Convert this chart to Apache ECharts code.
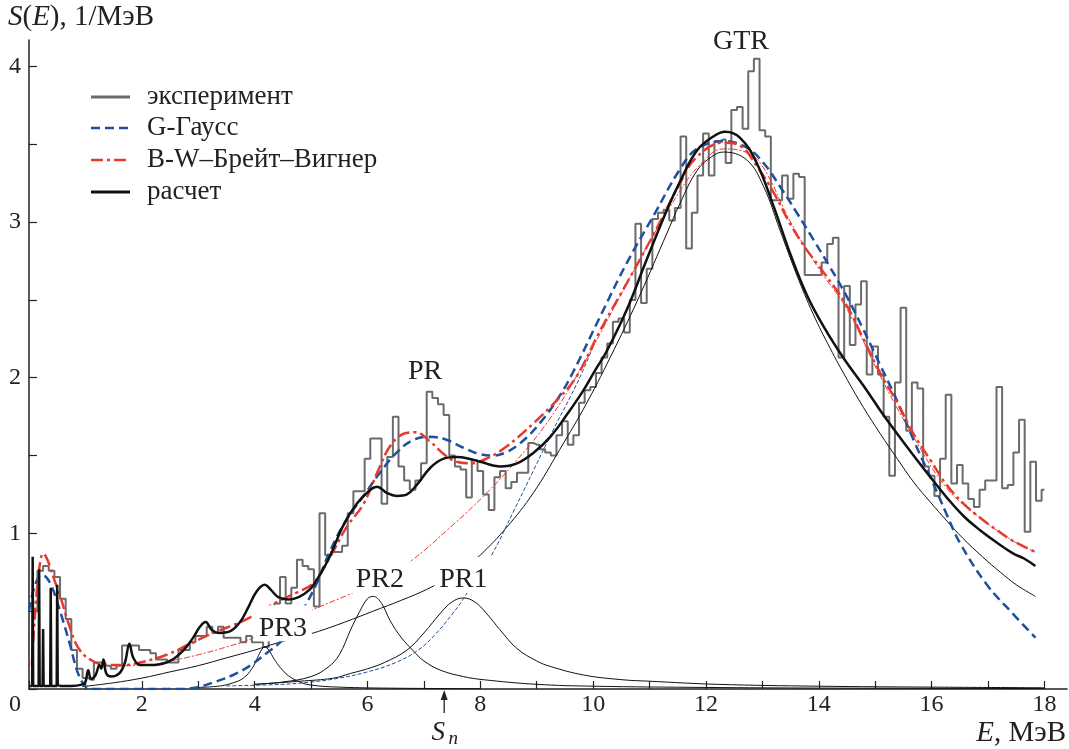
<!DOCTYPE html>
<html><head><meta charset="utf-8">
<script src="https://cdn.jsdelivr.net/npm/echarts@6/dist/echarts.min.js"></script>
<style>html,body{margin:0;padding:0;background:#fff}#c{width:1069px;height:749px}</style>
</head><body><div id="c"></div>
<script>
// ---------- data ----------
const histStart = 0.1, histStep = 0.1;          // bin centres, MeV
const histValues = [
 0.50,0.76,0.79,0.76,0.72,0.58,0.45,0.25,0.13,0.07,   // 0.1-1.0
 0.06,0.17,0.17,0.15,0.13,0.15,0.28,0.28,0.28,0.25,   // 1.1-2.0
 0.25,0.23,0.19,0.19,0.17,0.17,0.25,0.25,0.30,0.34,   // 2.1-3.0
 0.34,0.40,0.36,0.40,0.33,0.33,0.33,0.30,0.34,0.30,   // 3.1-4.0
 0.30,0.27,0.50,0.55,0.72,0.55,0.65,0.83,0.79,0.77,   // 4.1-5.0
 0.53,1.13,0.86,0.88,0.88,0.92,1.13,1.27,1.27,1.48,   // 5.1-6.0
 1.61,1.61,1.19,1.49,1.75,1.43,1.34,1.28,1.34,1.45,   // 6.1-7.0
 1.91,1.87,1.83,1.76,1.50,1.43,1.41,1.23,1.47,1.40,   // 7.1-8.0
 1.25,1.15,1.36,1.40,1.29,1.33,1.39,1.39,1.58,1.57,   // 8.1-9.0
 1.54,1.52,1.50,1.63,1.72,1.57,1.63,1.84,1.92,1.94,   // 9.1-10.0
 2.03,2.13,2.22,2.36,2.38,2.29,2.50,2.99,2.48,2.70,   // 10.1-11.0
 3.02,3.06,3.08,3.01,3.09,3.55,2.83,3.06,3.30,3.57,   // 11.1-12.0
 3.30,3.52,3.53,3.38,3.72,3.74,3.60,3.97,4.05,3.59,   // 12.1-13.0
 3.55,3.14,3.14,3.30,3.15,3.31,3.29,2.66,2.66,2.66,   // 13.1-14.0
 2.74,2.86,2.90,2.13,2.59,2.21,2.47,2.62,2.02,2.20,   // 14.1-15.0
 2.02,1.75,1.37,1.97,2.45,1.66,1.97,1.93,1.43,1.37,   // 15.1-16.0
 1.24,1.48,1.89,1.32,1.44,1.32,1.22,1.17,1.28,1.34,   // 16.1-17.0
 1.34,1.94,1.29,1.31,1.52,1.73,1.01,1.46,1.21,1.28    // 17.1-18.0
];

const calcSpikes = [[0.02,0.02],[0.056,0.02],[0.065,0.85],[0.074,0.02],[0.171,0.02],[0.18,0.77],[0.189,0.02],
 [0.241,0.02],[0.25,0.385],[0.259,0.02],[0.376,0.02],[0.385,0.65],[0.394,0.02],[0.491,0.02],[0.50,0.67],[0.509,0.025],[0.55,0.02]];
const calcCurve = [[0.55,0.02],[0.75,0.02],[0.95,0.03],[1.0,0.045],[1.05,0.12],[1.1,0.065],[1.18,0.09],[1.25,0.155],[1.28,0.13],
 [1.32,0.19],[1.37,0.10],[1.46,0.08],[1.6,0.10],[1.7,0.17],[1.78,0.29],[1.85,0.20],[1.97,0.155],[2.23,0.155],[2.5,0.18],
 [2.74,0.25],[2.91,0.33],[3.03,0.40],[3.13,0.43],[3.24,0.38],[3.36,0.36],[3.56,0.37],[3.74,0.43],[3.88,0.52],[4.04,0.63],
 [4.18,0.67],[4.28,0.64],[4.42,0.59],[4.6,0.575],[4.78,0.59],[4.98,0.64],[5.1,0.70],[5.33,0.85],[5.57,1.05],[5.81,1.19],
 [6.05,1.28],[6.17,1.30],[6.34,1.26],[6.52,1.24],[6.70,1.25],[6.87,1.31],[7.11,1.42],[7.35,1.48],[7.58,1.49],[7.8,1.48],
 [8.0,1.46],[8.35,1.43],[8.65,1.45],[8.95,1.52],[9.24,1.62],[9.53,1.76],[9.83,1.92],[10.04,2.05],[10.24,2.17],[10.6,2.44],
 [10.95,2.76],[11.31,3.08],[11.54,3.26],[11.84,3.46],[12.13,3.55],[12.34,3.58],[12.61,3.54],[12.90,3.38],[13.20,3.10],
 [13.49,2.80],[13.79,2.53],[14.1,2.32],[14.45,2.12],[14.79,1.95],[15.09,1.79],[15.39,1.64],[15.68,1.50],
 [15.98,1.36],[16.27,1.23],[16.57,1.11],[16.86,1.02],[17.16,0.94],[17.45,0.87],[17.63,0.84],[17.84,0.79]];

const gaussTotal = [[0.0,0.50],[0.1,0.66],[0.22,0.73],[0.3,0.72],[0.4,0.66],[0.5,0.56],[0.61,0.43],[0.73,0.28],[0.85,0.12],
 [0.95,0.04],[1.02,0.01],[1.1,0.0],[2.6,0.0],[2.97,0.01],[3.33,0.05],[3.62,0.09],[3.92,0.15],[4.21,0.23],[4.45,0.30],
 [4.65,0.39],[4.86,0.51],[5.1,0.68],[5.34,0.89],[5.63,1.09],[5.93,1.24],[6.22,1.39],[6.52,1.52],[6.81,1.60],[7.11,1.62],
 [7.41,1.60],[7.70,1.55],[7.98,1.51],[8.23,1.50],[8.45,1.52],[8.71,1.58],[9.06,1.71],[9.4,1.88],[9.65,2.04],[10.12,2.39],
 [10.6,2.74],[11.07,3.04],[11.54,3.34],[11.84,3.47],[12.31,3.52],[12.72,3.48],[13.02,3.38],[13.31,3.23],[13.61,3.06],
 [13.90,2.89],[14.2,2.71],[14.5,2.52],[14.79,2.31],[15.09,2.08],[15.39,1.85],[15.68,1.60],[15.98,1.36],[16.27,1.12],
 [16.5,0.94],[16.98,0.67],[17.45,0.48],[17.84,0.33]];

const bwTotal = [[0.05,0.15],[0.12,0.55],[0.2,0.82],[0.25,0.87],[0.3,0.85],[0.37,0.79],[0.45,0.70],[0.55,0.60],[0.65,0.48],
 [0.73,0.39],[0.82,0.30],[0.90,0.25],[1.0,0.21],[1.08,0.19],[1.26,0.16],[1.44,0.155],[1.73,0.155],[1.97,0.17],[2.44,0.22],
 [2.91,0.30],[3.33,0.37],[3.62,0.41],[3.92,0.46],[4.2,0.52],[4.45,0.57],[4.75,0.62],[5.04,0.68],[5.34,0.85],[5.63,1.04],
 [5.93,1.19],[6.22,1.43],[6.40,1.56],[6.64,1.64],[6.85,1.65],[7.11,1.59],[7.35,1.51],[7.58,1.46],[7.82,1.45],[8.11,1.48],
 [8.47,1.56],[8.95,1.71],[9.42,1.88],[9.71,2.01],[10.12,2.30],[10.6,2.61],[11.07,2.92],[11.54,3.25],[11.84,3.42],
 [12.31,3.51],[12.61,3.49],[12.9,3.36],[13.2,3.19],[13.49,2.99],[13.79,2.82],[14.08,2.68],[14.5,2.46],
 [14.79,2.25],[15.09,2.03],[15.39,1.84],[15.68,1.64],[15.98,1.47],[16.27,1.31],[16.57,1.19],[16.86,1.10],[17.16,1.02],
 [17.45,0.95],[17.84,0.88]];

const gtrCalc = [[0.94,0.015],[1.5,0.04],[2.0,0.07],[2.5,0.11],[3.0,0.15],[3.5,0.20],[4.0,0.25],[4.39,0.295],[4.8,0.335],
 [5.13,0.37],[5.6,0.43],[6.1,0.50],[6.6,0.57],[7.05,0.64],[7.5,0.73],[7.88,0.83],[8.0,0.86],[8.47,1.04],[8.94,1.26],
 [9.41,1.54],[9.89,1.84],[10.37,2.18],[10.84,2.54],[11.31,2.93],[11.54,3.12],[11.84,3.33],[12.1,3.42],[12.31,3.45],
 [12.72,3.40],[13.02,3.23],[13.31,2.95],[13.61,2.66],[13.90,2.41],[14.2,2.19],[14.5,1.99],[14.79,1.81],[15.09,1.64],
 [15.39,1.48],[15.68,1.33],[15.98,1.20],[16.27,1.08],[16.55,0.97],[16.9,0.85],[17.22,0.75],[17.5,0.67],[17.84,0.595]];
const pr1Calc = [[4.0,0.03],[4.8,0.05],[5.4,0.07],[5.7,0.10],[6.0,0.13],[6.3,0.17],[6.7,0.25],[7.0,0.36],[7.3,0.49],
 [7.5,0.56],[7.7,0.585],[7.9,0.56],[8.1,0.49],[8.35,0.38],[8.65,0.26],[9.0,0.18],[9.24,0.145],[9.83,0.09],[10.5,0.06],
 [11.0,0.05],[12.2,0.03],[14.0,0.018],[16.0,0.012],[18.0,0.008]];
const pr2Calc = [[4.0,0.03],[4.5,0.045],[5.0,0.08],[5.3,0.14],[5.5,0.22],[5.7,0.38],[5.85,0.49],[6.0,0.58],[6.1,0.595],
 [6.25,0.55],[6.4,0.44],[6.6,0.33],[6.8,0.25],[7.0,0.18],[7.3,0.12],[7.7,0.08],[8.05,0.06],[9.0,0.03],[10.0,0.018],
 [12.0,0.01],[14.0,0.006],[18.0,0.003]];
const pr3Calc = [[3.0,0.01],[3.4,0.02],[3.62,0.04],[3.8,0.07],[3.95,0.13],[4.05,0.20],[4.12,0.25],[4.18,0.27],[4.25,0.25],
 [4.35,0.19],[4.45,0.14],[4.6,0.085],[4.8,0.045],[5.0,0.025],[5.5,0.012],[6.5,0.005],[8.0,0.002]];
const gaussGtr = [[3.5,0.02],[4.5,0.03],[5.0,0.045],[5.5,0.07],[6.0,0.11],[6.5,0.17],[6.9,0.25],[7.2,0.35],[7.5,0.48],
 [7.7,0.58],[8.0,0.76],[8.2,0.86],[8.6,1.15],[8.95,1.41],[9.3,1.67],[9.6,1.88],[9.8,2.03],[10.0,2.2]];
const bwGtr = [[1.7,0.15],[2.0,0.15],[2.5,0.18],[3.0,0.22],[3.5,0.27],[3.92,0.32],[4.5,0.42],[5.1,0.52],[5.69,0.61],
 [6.2,0.70],[6.76,0.82],[7.47,1.04],[8.06,1.24],[8.6,1.45],[9.2,1.72],[9.77,2.05],[10.37,2.45],[10.95,2.84],[11.54,3.20],
 [11.9,3.37],[12.3,3.47],[12.7,3.45],[13.0,3.36],[13.5,3.0],[14.0,2.70],[14.5,2.44],[15.09,2.01],[15.68,1.62],
 [16.27,1.29],[16.86,1.10],[17.45,0.95],[17.84,0.88]];

const annotations = [
  {text:'GTR', E:12.62, y:4.157, box:false},
  {text:'PR',  E:7.02,  y:2.04,  box:false},
  {text:'PR2', E:6.22,  y:0.70,  box:true},
  {text:'PR1', E:7.70,  y:0.70,  box:true},
  {text:'PR3', E:4.50,  y:0.39,  box:true}
];
const snE = 7.36;
const xTickValues = [0,1,2,3,4,5,6,7,8,9,10,11,12,13,14,15,16,17,18];
const xLabelValues = [2,4,6,8,10,12,14,16,18];
const yTickValues = [0,0.5,1,1.5,2,2.5,3,3.5,4];
const yLabelValues = [1,2,3,4];
const legendNames = ['эксперимент','G-Гаусс','B-W–Брейт–Вигнер','расчет'];

// ---------- chart ----------
const FONT = 'Liberation Serif';
const BLUE = '#1f4f9e', RED = '#e8392c', GRAY = '#6b6b6b', BLACK = '#111', INK = '#222';
const histData = histValues.map((v,i)=>[+(histStart+i*histStep).toFixed(2), v]);

function thin(data, color, type){
  return {type:'line', data, symbol:'none', smooth:0.4, silent:true,
    lineStyle:{color, width:1, type: type||'solid'}, z:3};
}

const chart = echarts.init(document.getElementById('c'), null, {renderer:'canvas'});
chart.setOption({
  animation:false,
  backgroundColor:'#fff',
  textStyle:{fontFamily:FONT},
  grid:{left:29, right:2, top:40, bottom:60, containLabel:false},
  xAxis:{type:'value', min:0, max:18.4,
    axisLine:{onZero:false, lineStyle:{color:INK, width:1.5}},
    axisTick:{inside:true, length:8, lineStyle:{color:INK, width:1.2}, customValues:xTickValues},
    axisLabel:{show:false}, splitLine:{show:false}},
  yAxis:{type:'value', min:0, max:4.17,
    axisLine:{show:true, onZero:false, lineStyle:{color:INK, width:1.5}},
    axisTick:{show:true, inside:true, length:8, lineStyle:{color:INK, width:1.2}, customValues:yTickValues},
    axisLabel:{show:false}, splitLine:{show:false}},
  series:[
    {name:legendNames[0], type:'line', step:'middle', data:histData, symbol:'none',
      lineStyle:{color:GRAY, width:2}, z:2},
    thin(gtrCalc, BLACK), thin(pr1Calc, BLACK), thin(pr2Calc, BLACK), thin(pr3Calc, BLACK),
    thin(gaussGtr, BLUE, [4,2]), thin(bwGtr, RED, [6,2,2,2]),
    {name:legendNames[1], type:'line', data:gaussTotal, symbol:'none', smooth:0.4,
      lineStyle:{color:BLUE, width:2.5, type:[9,5]}, z:4},
    {name:legendNames[2], type:'line', data:bwTotal, symbol:'none', smooth:0.4,
      lineStyle:{color:RED, width:2.5, type:[12,4,3,4]}, z:5},
    {name:legendNames[3], type:'line', data:calcCurve, symbol:'none', smooth:0.4,
      lineStyle:{color:BLACK, width:2.5}, z:6},
    {name:legendNames[3], type:'line', data:calcSpikes, symbol:'none', smooth:false,
      lineStyle:{color:BLACK, width:2.5}, z:6}
  ]
});

// ---------- texts (graphic text, positioned through the axes) ----------
const toPx = (E, y) => chart.convertToPixel({xAxisIndex:0, yAxisIndex:0}, [E, y]);
function txt(x, y, text, size, align, vAlign, italic){
  const tok = {fontSize:size, fontFamily:FONT, fill:INK, fontStyle: italic ? 'italic' : 'normal'};
  return {type:'text', x, y, z:50, silent:true,
    style:{text:'{t|' + text + '}', rich:{t:tok}, fill:INK, fontSize:size, fontFamily:FONT,
      align:align, verticalAlign:vAlign}};
}
const g = [];
xLabelValues.forEach(v => { const p = toPx(v, 0); g.push(txt(p[0], p[1]+16, String(v), 24, 'center', 'middle')); });
yLabelValues.forEach(v => { const p = toPx(0, v); g.push(txt(p[0]-8, p[1], String(v), 24, 'right', 'middle')); });
const o0 = toPx(0, 0);
g.push(txt(o0[0]-14, o0[1]+16, '0', 24, 'center', 'middle'));
// axis titles
g.push({type:'text', left:8, top:3, z:50, style:{text:'{i|S}{r|(}{i|E}{r|), 1/МэВ}', fill:INK, fontSize:29, fontFamily:FONT,
  rich:{i:{fontStyle:'italic', fontSize:29, fontFamily:FONT, fill:INK}, r:{fontSize:29, fontFamily:FONT, fill:INK}}}});
g.push({type:'text', right:3, bottom:1, z:50, style:{text:'{i|E}{r|, МэВ}', fill:INK, fontSize:29, fontFamily:FONT,
  rich:{i:{fontStyle:'italic', fontSize:29, fontFamily:FONT, fill:INK}, r:{fontSize:29, fontFamily:FONT, fill:INK}}}});
// S_n marker
const s = toPx(snE, 0);
g.push({type:'line', z:50, shape:{x1:s[0], y1:s[1]+24, x2:s[0], y2:s[1]+8}, style:{stroke:INK, lineWidth:1.3}});
g.push({type:'polygon', z:50, shape:{points:[[s[0]-3.5,s[1]+11],[s[0]+3.5,s[1]+11],[s[0],s[1]+1]]}, style:{fill:INK}});
g.push(txt(s[0]-6, s[1]+44, 'S', 27, 'center', 'middle', true));
g.push(txt(s[0]+9, s[1]+50, 'n', 19, 'center', 'middle', true));
// peak annotations; boxed ones get a white backing rectangle that hides the curves behind them
annotations.forEach(a => { const p = toPx(a.E, a.y);
  if (a.box) {
    g.push({type:'rect', z:49, silent:true, shape:{x:p[0]-29, y:p[1]-23, width:58, height:36},
      style:{fill:'#fff'}});
  }
  g.push(txt(p[0], p[1], a.text, 28, 'center', 'middle'));
});
// legend
const legendStyles = [
  {stroke:GRAY, lineWidth:3},
  {stroke:BLUE, lineWidth:2.5, lineDash:[9,5]},
  {stroke:RED, lineWidth:2.5, lineDash:[12,4,3,4]},
  {stroke:BLACK, lineWidth:3}
];
const legendRows = [97, 128, 160, 192];
legendNames.forEach((name, i) => {
  const y = legendRows[i];
  g.push({type:'line', z:50, silent:true, shape:{x1:91, y1:y, x2:130, y2:y}, style:legendStyles[i]});
  g.push(txt(147, y, name, 27, 'left', 'middle'));
});
chart.setOption({graphic:g});
</script></body></html>
